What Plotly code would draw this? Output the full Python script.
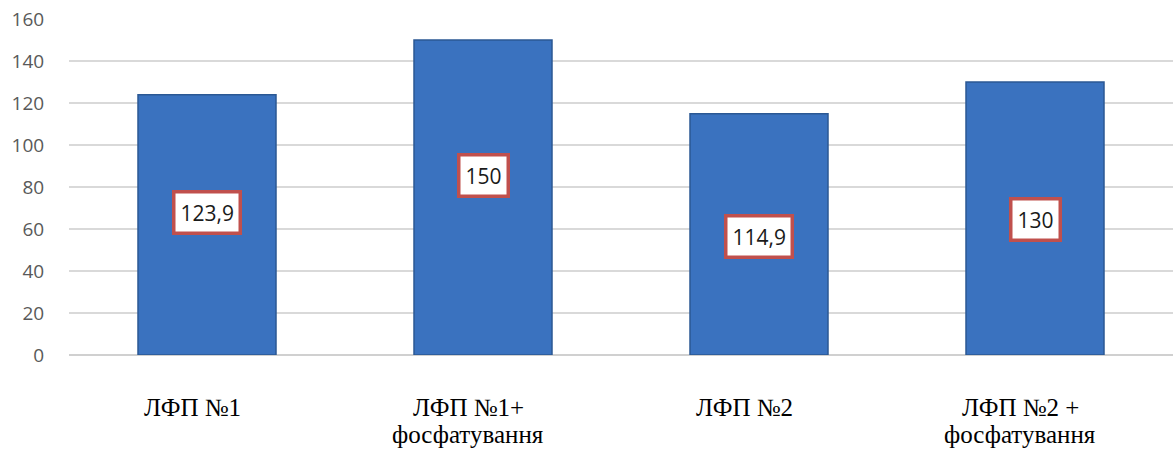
import plotly.graph_objects as go

# Categories and measured values
categories = ["ЛФП №1", "ЛФП №1+<br>фосфатування", "ЛФП №2", "ЛФП №2 +<br>фосфатування"]
values = [123.9, 150, 114.9, 130]
# Height (in axis units) at which each value badge sits inside its bar
label_heights = [68, 85.7, 56.2, 64.3]

y_ticks = [0, 20, 40, 60, 80, 100, 120, 140, 160]


def fmt(v):
    s = f"{v:g}"
    return s.replace(".", ",")


fig = go.Figure()
fig.add_trace(go.Bar(
    x=categories,
    y=values,
    marker=dict(color="#3a72bf", line=dict(color="#2b5894", width=1.5)),
    width=0.5,
    hoverinfo="skip",
))

# value badges
for cat, v, h in zip(categories, values, label_heights):
    fig.add_annotation(
        x=cat, y=h, text=fmt(v), showarrow=False,
        font=dict(family="Open Sans, Liberation Sans, sans-serif", size=21, color="#1a1a1a"),
        bgcolor="white", bordercolor="#c0504d", borderwidth=3.5, borderpad=5,
    )

# category labels, one annotation per line for tighter line spacing
serif = dict(family="Liberation Serif, Times New Roman, serif", size=25, color="#000000")
for cat in categories:
    for i, line in enumerate(cat.split("<br>")):
        fig.add_annotation(
            x=cat, y=0, yref="y", text=line, showarrow=False,
            xanchor="center", yanchor="middle",
            xshift=-15, yshift=-(52 + 27 * i),
            font=serif,
        )

fig.update_layout(
    width=1173, height=450,
    margin=dict(l=69, r=0, t=19, b=95),
    paper_bgcolor="white", plot_bgcolor="white",
    showlegend=False,
    xaxis=dict(
        showgrid=False, showline=False, zeroline=False,
        showticklabels=False,
    ),
    yaxis=dict(
        range=[0, 160], tickvals=y_ticks,
        showgrid=True, gridcolor="#d9d9d9", gridwidth=1.5,
        zeroline=True, zerolinecolor="#d0d0d0", zerolinewidth=1.5,
        showline=False,
        ticks="outside", ticklen=20, tickcolor="rgba(0,0,0,0)",
        tickfont=dict(family="Open Sans, Liberation Sans, sans-serif", size=19, color="#595959"),
    ),
)

fig.write_html("out.html")
